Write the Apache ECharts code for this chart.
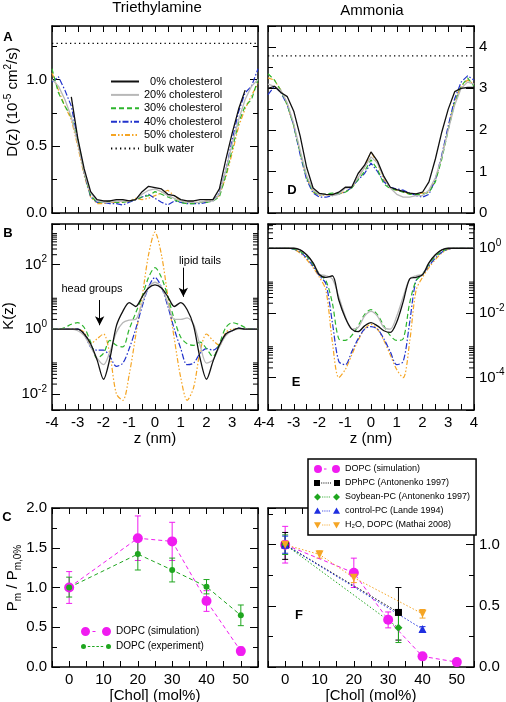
<!DOCTYPE html>
<html><head><meta charset="utf-8">
<script src="https://cdn.jsdelivr.net/npm/echarts@6/dist/echarts.min.js"></script>
<style>html,body{margin:0;padding:0;background:#fff}#c{width:506px;height:702px}</style>
</head><body><div id="c"></div>
<script>
const FONT = '"Liberation Sans", Arial, Helvetica, sans-serif';

// ---------- data ----------
const z = [-4,-3.75,-3.5,-3.25,-3,-2.75,-2.5,-2.25,-2,-1.75,-1.5,-1.25,-1,-0.75,-0.5,-0.25,0,0.25,0.5,0.75,1,1.25,1.5,1.75,2,2.25,2.5,2.75,3,3.25,3.5,3.75,4];
const curveNames = ['0% cholesterol','20% cholesterol','30% cholesterol','40% cholesterol','50% cholesterol'];

// Panel A: D(z), triethylamine (10^-5 cm^2/s)
const D_TEA_0  = [null,null,null,0.87,0.56,0.33,0.16,0.1,0.09,0.09,0.1,0.1,0.09,0.1,0.16,0.2,0.19,0.18,0.14,0.13,0.1,0.09,0.09,0.1,0.1,0.1,0.18,0.4,0.6,0.78,0.92,null,null];
const D_TEA_20 = [1.0,0.95,0.85,0.72,0.52,0.3,0.15,0.09,0.08,0.08,0.09,0.09,0.09,0.1,0.14,0.17,0.18,0.16,0.13,0.11,0.09,0.08,0.08,0.08,0.09,0.09,0.14,0.32,0.52,0.7,0.85,0.95,1.0];
const D_TEA_30 = [1.08,0.9,0.8,0.72,0.55,0.3,0.13,0.08,0.08,0.09,0.08,0.08,0.09,0.1,0.12,0.13,0.16,0.14,0.12,0.1,0.08,0.07,0.07,0.08,0.08,0.09,0.12,0.28,0.48,0.68,0.8,0.85,1.0];
const D_TEA_40 = [0.98,1.02,0.92,0.8,0.55,0.3,0.12,0.08,0.08,0.07,0.07,0.06,0.08,0.1,0.12,0.14,0.11,0.08,0.06,0.09,0.08,0.07,0.07,0.07,0.08,0.09,0.15,0.32,0.55,0.76,0.9,0.95,1.08];
const D_TEA_50 = [1.05,0.92,0.8,0.7,0.5,0.28,0.12,0.07,0.07,0.08,0.08,0.08,0.09,0.11,0.1,0.11,0.13,0.15,0.17,0.13,0.09,0.08,0.08,0.08,0.09,0.1,0.13,0.27,0.45,0.65,0.78,0.88,0.97];
const bulkTEA = 1.27;

// Panel D: D(z), ammonia
const D_NH3_0  = [3.0,3.05,2.9,2.8,2.45,1.85,1.1,0.6,0.47,0.45,0.44,0.5,0.62,0.62,0.95,1.15,1.47,1.25,0.88,0.62,0.56,0.52,0.48,0.46,0.5,0.75,1.3,1.95,2.5,2.92,3.0,3.02,3.02];
const D_NH3_20 = [3.1,3.05,2.95,2.65,2.15,1.5,0.9,0.55,0.44,0.44,0.42,0.45,0.6,0.62,0.85,1.1,1.35,1.2,0.85,0.6,0.45,0.38,0.38,0.42,0.42,0.55,0.85,1.35,2.0,2.6,3.0,3.15,3.1];
const D_NH3_30 = [3.35,3.2,2.95,2.6,2.1,1.45,0.85,0.52,0.43,0.46,0.48,0.46,0.5,0.6,0.8,1.0,1.28,1.05,0.7,0.58,0.55,0.5,0.45,0.45,0.45,0.5,0.75,1.3,2.0,2.65,3.05,3.25,3.05];
const D_NH3_40 = [2.85,3.05,2.9,2.6,2.1,1.4,0.8,0.48,0.38,0.38,0.42,0.46,0.5,0.62,0.8,0.95,1.2,1.0,0.75,0.62,0.58,0.55,0.48,0.42,0.38,0.45,0.8,1.4,2.1,2.75,3.15,3.3,3.2];
const D_NH3_50 = [3.25,3.2,2.95,2.6,2.1,1.45,0.85,0.5,0.42,0.43,0.45,0.45,0.52,0.6,0.85,1.1,1.47,1.2,0.8,0.6,0.55,0.5,0.46,0.46,0.48,0.5,0.8,1.35,2.05,2.7,3.05,3.2,3.1];
const bulkNH3 = 3.78;

// Panel B: log10 K(z), triethylamine
const logK_TEA_0  = [0,0,0,0,0,-0.15,-0.45,-0.95,-1.55,-0.9,0.1,0.55,0.82,0.7,1.0,1.27,1.37,1.27,1.0,0.7,0.82,0.6,0.1,-0.9,-1.55,-1.0,-0.5,-0.15,-0.05,0.03,0,0,0];
const logK_TEA_20 = [0,0,0,0,-0.05,-0.2,-0.55,-0.9,-1.1,-0.7,-0.1,0.2,0.28,0.3,0.8,1.3,1.45,1.3,0.8,0.3,0.3,0.35,0.15,-0.5,-1.05,-0.95,-0.55,-0.2,-0.05,0,0,0,0];
const logK_TEA_30 = [0,0,0.05,0.15,0.2,0.05,-0.4,-0.9,-0.75,-0.35,-0.5,-0.55,0.0,0.5,1.0,1.6,1.9,1.6,1.0,0.3,-0.25,-0.45,-0.5,-0.4,-0.6,-0.85,-0.45,0.05,0.2,0.15,0.05,0,0];
const logK_TEA_40 = [0,0,0,0,0,-0.15,-0.55,-0.65,-0.65,-0.85,-1.15,-1.05,-0.6,0.0,0.7,1.3,1.6,1.3,0.7,0.0,-0.6,-1.1,-1.05,-0.75,-0.6,-0.65,-0.5,-0.15,-0.05,0.03,0,0,0];
const logK_TEA_50 = [0,0,0,0,0,-0.1,-0.45,-0.3,-0.15,-0.8,-2.0,-2.2,-1.4,-0.2,1.0,2.3,3.0,2.3,1.0,-0.3,-1.5,-2.2,-1.8,-0.7,-0.15,-0.35,-0.5,-0.1,0,0,0,0,0];

// Panel E: log10 K(z), ammonia
const logK_NH3_0  = [0,0,0,0,0,-0.05,-0.2,-0.45,-0.82,-0.9,-0.85,-1.6,-2.15,-2.5,-2.58,-2.4,-2.3,-2.4,-2.55,-2.6,-2.28,-1.65,-0.95,-0.9,-0.82,-0.45,-0.2,-0.05,0,0,0,0,0];
const logK_NH3_20 = [0,0,0,0,0,-0.05,-0.2,-0.45,-0.8,-0.85,-0.95,-1.5,-2.1,-2.5,-2.45,-2.1,-1.95,-2.1,-2.45,-2.5,-2.1,-1.5,-0.95,-0.85,-0.8,-0.45,-0.2,-0.05,0,0,0,0,0];
const logK_NH3_30 = [0,0,0,0,-0.02,-0.1,-0.25,-0.5,-0.8,-1.0,-1.7,-2.8,-2.85,-2.7,-2.4,-2.05,-1.9,-2.05,-2.4,-2.7,-2.85,-2.8,-1.7,-1.0,-0.8,-0.5,-0.25,-0.1,-0.02,0,0,0,0];
const logK_NH3_40 = [0,0,0,0,-0.03,-0.12,-0.3,-0.55,-0.85,-1.1,-2.3,-3.5,-3.6,-3.2,-2.8,-2.5,-2.42,-2.5,-2.8,-3.2,-3.6,-3.5,-2.3,-1.0,-0.8,-0.55,-0.3,-0.12,-0.03,0,0,0,0];
const logK_NH3_50 = [0,0,0,0,-0.03,-0.15,-0.35,-0.6,-0.9,-1.3,-2.9,-4.0,-3.75,-3.3,-2.85,-2.5,-2.35,-2.5,-2.85,-3.3,-3.75,-4.0,-2.9,-1.3,-0.9,-0.6,-0.35,-0.15,-0.03,0,0,0,0];

// Panel C: Pm / Pm,0%  vs [Chol]
const cholC = [0,20,30,40,50];
const simC  = [1.0,1.62,1.58,0.83,0.2];
const simC_lo = [0.8,1.34,1.34,0.7,0.15];
const simC_hi = [1.2,1.9,1.82,0.96,0.25];
const expC  = [1.0,1.42,1.22,1.01,0.65];
const expC_lo = [0.88,1.22,1.07,0.92,0.52];
const expC_hi = [1.13,1.6,1.37,1.1,0.78];

// Panel F
const cholF_sim = [0,20,30,40,50];
const simF = [1.0,0.77,0.386,0.087,0.04];
const simF_lo = [0.85,0.65,0.32,0.07,0.03];
const simF_hi = [1.15,0.89,0.45,0.1,0.05];
const cholF_dphpc = [0,33];
const dphpcF = [1.0,0.446];
const dphpcF_lo = [0.88,0.22];
const dphpcF_hi = [1.1,0.65];
const cholF_soy = [0,33];
const soyF = [1.0,0.32];
const soyF_lo = [0.92,0.2];
const soyF_hi = [1.08,0.43];
const cholF_ctrl = [0,40];
const ctrlF = [1.0,0.31];
const ctrlF_lo = [0.93,0.29];
const ctrlF_hi = [1.07,0.33];
const cholF_h2o = [0,10,20,40];
const h2oF = [1.0,0.92,0.73,0.435];
const h2oF_lo = [0.97,0.89,0.69,0.4];
const h2oF_hi = [1.03,0.95,0.77,0.47];

// annotation arrows in panel B (z, log10 K)
const arrowHead = [[-2.15,0.9],[-2.15,0.12]];
const arrowTail = [[1.1,1.9],[1.1,1.0]];

// ---------- helpers ----------
const grids = [
  {left:52, top:26, width:206, height:187},   // A
  {left:268, top:26, width:206, height:187},  // D
  {left:52, top:224, width:206, height:186},  // B
  {left:268, top:224, width:206, height:186}, // E
  {left:52, top:508, width:206, height:159},  // C
  {left:268, top:508, width:206, height:159}  // F
].map(g => Object.assign({containLabel:false, outerBoundsMode:'none'}, g));

const SUP = {fontSize:10, lineHeight:10, verticalAlign:'top', fontFamily:FONT, color:'#000'};
function xAxis(g, pos, min, max, interval, minor, fmt, name, nameGap) {
  return {
    type:'value', gridIndex:g, position:pos, min, max, interval,
    axisLine:{show:true, onZero:false, lineStyle:{color:'#000', width:1.5}},
    axisTick:{show:true, inside:true, length:6, lineStyle:{color:'#000', width:1}},
    minorTick:{show:minor>1, splitNumber:minor||5, length:6, lineStyle:{color:'#000', width:1}},
    splitLine:{show:false}, minorSplitLine:{show:false},
    axisLabel:{show:!!fmt, formatter:fmt, color:'#000', fontSize:15, fontFamily:FONT, margin:5, showMinLabel:true, showMaxLabel:true},
    name:name||'', nameLocation:'middle', nameGap:nameGap||0,
    nameTextStyle:{color:'#000', fontSize:15, fontFamily:FONT}
  };
}
function yAxis(g, pos, min, max, interval, minor, fmt, splitNumber) {
  const o = {
    type:'value', gridIndex:g, position:pos, min, max,
    axisLine:{show:true, onZero:false, lineStyle:{color:'#000', width:1.5}},
    axisTick:{show:true, inside:true, length:8, lineStyle:{color:'#000', width:1}},
    minorTick:{show:minor>1, splitNumber:minor||5, length:5, lineStyle:{color:'#000', width:1}},
    splitLine:{show:false}, minorSplitLine:{show:false},
    axisLabel:{show:!!fmt, formatter:fmt, color:'#000', fontSize:15, fontFamily:FONT, margin:5, lineHeight:20,
               showMinLabel:true, showMaxLabel:true, rich:{s:SUP}}
  };
  if (interval != null) o.interval = interval; else o.splitNumber = splitNumber;
  return o;
}
const isInt = v => Math.abs(v - Math.round(v)) < 1e-6;
const fmtInt = v => (isInt(v) ? String(Math.round(v)) : '');
const fmtHalf = v => (isInt(v*2) ? v.toFixed(1) : '');
const fmtTen = v => (v >= 0 && isInt(v/10) ? String(v) : '');
const fmtPow = v => (isInt(v/2) ? '10{s|' + Math.round(v) + '}' : '');

const xAxes = [], yAxes = [];
// A
xAxes.push(xAxis(0,'bottom',-4,4,1,2,null), xAxis(0,'top',-4,4,1,2,null));
yAxes.push(yAxis(0,'left',0,1.4,0.5,2,fmtHalf), yAxis(0,'right',0,1.4,0.5,2,null));
// D
xAxes.push(xAxis(1,'bottom',-4,4,1,2,null), xAxis(1,'top',-4,4,1,2,null));
yAxes.push(yAxis(1,'left',0,4.5,1,2,null), yAxis(1,'right',0,4.5,1,2,fmtInt));
// B
xAxes.push(xAxis(2,'bottom',-4,4,1,2,fmtInt,'z (nm)',20), xAxis(2,'top',-4,4,1,2,null));
yAxes.push(yAxis(2,'left',-2.5,3.25,null,0,fmtPow,3), yAxis(2,'right',-2.5,3.25,null,0,null,3));
// E
xAxes.push(xAxis(3,'bottom',-4,4,1,2,fmtInt,'z (nm)',20), xAxis(3,'top',-4,4,1,2,null));
yAxes.push(yAxis(3,'left',-5,0.75,null,0,null,3), yAxis(3,'right',-5,0.75,null,0,fmtPow,3));
// C
xAxes.push(xAxis(4,'bottom',-5,55,5,0,fmtTen,'[Chol] (mol%)',19), xAxis(4,'top',-5,55,5,0,null));
yAxes.push(yAxis(4,'left',0,2,0.5,2,fmtHalf), yAxis(4,'right',0,2,0.5,2,null));
// F
xAxes.push(xAxis(5,'bottom',-5,55,5,0,fmtTen,'[Chol] (mol%)',19), xAxis(5,'top',-5,55,5,0,null));
yAxes.push(yAxis(5,'left',0,1.3,0.5,2,null), yAxis(5,'right',0,1.3,0.5,2,fmtHalf));

const STY = [
  {color:'#111111', width:1.3, type:'solid', z:6},
  {color:'#b8b8b8', width:1.3, type:'solid', z:5},
  {color:'#2db52d', width:1.2, type:[5,3], z:4},
  {color:'#2233cc', width:1.2, type:[6,2,1.5,2], z:3},
  {color:'#f5a524', width:1.2, type:[5,2,1.5,2,1.5,2], z:2}
];
const series = [];
function curve(name, g, arr, st, smooth) {
  series.push({type:'line', name, xAxisIndex:2*g, yAxisIndex:2*g,
    data:z.map((v,i)=>[v, arr[i]]), symbol:'none', showSymbol:false, smooth:smooth||false,
    connectNulls:false, lineStyle:{color:st.color, width:st.width, type:st.type},
    itemStyle:{color:st.color}, z:st.z, animation:false, emphasis:{disabled:true}, silent:true});
}
[D_TEA_0,D_TEA_20,D_TEA_30,D_TEA_40,D_TEA_50].forEach((a,i)=>curve(curveNames[i],0,a,STY[i],false));
[D_NH3_0,D_NH3_20,D_NH3_30,D_NH3_40,D_NH3_50].forEach((a,i)=>curve(curveNames[i],1,a,STY[i],false));
[logK_TEA_0,logK_TEA_20,logK_TEA_30,logK_TEA_40,logK_TEA_50].forEach((a,i)=>curve(curveNames[i],2,a,STY[i],0.3));
[logK_NH3_0,logK_NH3_20,logK_NH3_30,logK_NH3_40,logK_NH3_50].forEach((a,i)=>curve(curveNames[i],3,a,STY[i],0.3));

// bulk water
[[0,bulkTEA],[1,bulkNH3]].forEach(([g,v])=>{
  series.push({type:'line', name:'bulk water', xAxisIndex:2*g, yAxisIndex:2*g,
    data:[[z[0],v],[z[z.length-1],v]], symbol:'none', showSymbol:false,
    lineStyle:{color:'#000', width:1.3, type:[1.3,3.2]}, itemStyle:{color:'#000'}, animation:false, silent:true});
});

// arrows in B
series.push({type:'line', xAxisIndex:4, yAxisIndex:4, data:[], silent:true, animation:false,
  markLine:{silent:true, symbol:['none','arrow'], symbolSize:[7,9], animation:false,
    lineStyle:{color:'#000', width:1, type:'solid'}, label:{show:false},
    data:[[{coord:arrowHead[0]},{coord:arrowHead[1]}],[{coord:arrowTail[0]},{coord:arrowTail[1]}]]}});

// log minor ticks in B and E (2..9 x 10^n for the labelled decades)
function logMinor(lo, hi, decades) {
  const out = [];
  decades.forEach(n => { for (let k=2;k<=9;k++){ const v=n+Math.log10(k); if (v>lo && v<hi) out.push([0,v]); } });
  return out;
}
function minorTickSeries(g, data) {
  series.push({type:'custom', xAxisIndex:2*g, yAxisIndex:2*g, data, silent:true, animation:false, clip:false, z:1,
    encode:{x:0, y:1},
    renderItem:(p, api)=>{
      const cs = p.coordSys; const y = api.coord([0, api.value(1)])[1];
      const st = {stroke:'#000', lineWidth:1};
      return {type:'group', children:[
        {type:'line', shape:{x1:cs.x, y1:y, x2:cs.x+5, y2:y}, style:st},
        {type:'line', shape:{x1:cs.x+cs.width-5, y1:y, x2:cs.x+cs.width, y2:y}, style:st}]};
    }});
}
minorTickSeries(2, logMinor(-2.5, 3.25, [-2,0,2]));
minorTickSeries(3, logMinor(-5, 0.75, [-4,-2,0]));

// panel C / F points
function pts(name, g, xs, ys, color, symbol, size, lineType, rot) {
  series.push({type:'line', name, xAxisIndex:2*g, yAxisIndex:2*g, data:xs.map((x,i)=>[x,ys[i]]),
    symbol, symbolSize:size, symbolRotate:rot||0, showSymbol:true,
    lineStyle:{color, width:1, type:lineType}, itemStyle:{color}, z:5, animation:false, silent:true});
}
function errBars(g, xs, lo, hi, color) {
  series.push({type:'custom', xAxisIndex:2*g, yAxisIndex:2*g, data:xs.map((x,i)=>[x,lo[i],hi[i]]),
    silent:true, animation:false, z:4, encode:{x:0, y:[1,2]},
    renderItem:(p, api)=>{
      const a = api.coord([api.value(0), api.value(1)]), b = api.coord([api.value(0), api.value(2)]);
      const w = 3, st = {stroke:color, lineWidth:1};
      return {type:'group', children:[
        {type:'line', shape:{x1:a[0],y1:a[1],x2:b[0],y2:b[1]}, style:st},
        {type:'line', shape:{x1:a[0]-w,y1:a[1],x2:a[0]+w,y2:a[1]}, style:st},
        {type:'line', shape:{x1:b[0]-w,y1:b[1],x2:b[0]+w,y2:b[1]}, style:st}]};
    }});
}
const MAG = '#f01cf0', GRN = '#1fa61f', BLU = '#1f2fe0', ORG = '#f5a524';
errBars(4, cholC, simC_lo, simC_hi, MAG);
errBars(4, cholC, expC_lo, expC_hi, GRN);
pts('DOPC (simulation)', 4, cholC, simC, MAG, 'circle', 10, [4,3]);
pts('DOPC (experiment)', 4, cholC, expC, GRN, 'circle', 6, [4,3]);

errBars(5, cholF_sim, simF_lo, simF_hi, MAG);
errBars(5, cholF_dphpc, dphpcF_lo, dphpcF_hi, '#000');
errBars(5, cholF_soy, soyF_lo, soyF_hi, GRN);
errBars(5, cholF_ctrl, ctrlF_lo, ctrlF_hi, BLU);
errBars(5, cholF_h2o, h2oF_lo, h2oF_hi, ORG);
pts('DOPC (simulation)', 5, cholF_sim, simF, MAG, 'circle', 10, [4,3]);
pts('DPhPC (Antonenko 1997)', 5, cholF_dphpc, dphpcF, '#000', 'rect', 7, [1.5,2]);
pts('Soybean-PC (Antonenko 1997)', 5, cholF_soy, soyF, GRN, 'diamond', 8, [1.5,2]);
pts('control-PC (Lande 1994)', 5, cholF_ctrl, ctrlF, BLU, 'triangle', 8, [1.5,2]);
pts('H\u2082O, DOPC (Mathai 2008)', 5, cholF_h2o, h2oF, ORG, 'triangle', 8, [1.5,2], 180);

// ---------- legend icons: marker at both ends joined by a dashed / dotted line ----------
function markerPath(kind, cx, cy, r) {
  if (kind === 'circle') return `M${cx-r},${cy}a${r},${r} 0 1,0 ${2*r},0a${r},${r} 0 1,0 ${-2*r},0Z`;
  if (kind === 'rect') return `M${cx-r},${cy-r}h${2*r}v${2*r}h${-2*r}Z`;
  if (kind === 'diamond') return `M${cx},${cy-r}L${cx+r},${cy}L${cx},${cy+r}L${cx-r},${cy}Z`;
  if (kind === 'up') return `M${cx},${cy-r}L${cx+r},${cy+r*0.8}L${cx-r},${cy+r*0.8}Z`;
  return `M${cx-r},${cy-r*0.8}L${cx+r},${cy-r*0.8}L${cx},${cy+r}Z`;
}
function legendIcon(W, H, kind, r, dashLen, gapLen) {
  const cy = H/2, x0 = r, x1 = W - r;
  let p = `M0,0L0,0ZM${W},${H}L${W},${H}Z`;
  p += markerPath(kind, x0, cy, r) + markerPath(kind, x1, cy, r);
  for (let x = x0 + r + gapLen; x + dashLen <= x1 - r - gapLen + 0.01; x += dashLen + gapLen)
    p += `M${x},${cy-0.6}h${dashLen}v1.2h${-dashLen}Z`;
  return 'path://' + p;
}

const legText = {color:'#000', fontFamily:FONT};
const option = {
  animation:false,
  backgroundColor:'#fff',
  grid:grids, xAxis:xAxes, yAxis:yAxes, series,
  legend:[
    {data:[...curveNames,'bulk water'], left:105, top:71, orient:'vertical', itemGap:2.4, itemWidth:28, itemHeight:11,
     selectedMode:false, itemStyle:{opacity:0}, textStyle:Object.assign({fontSize:11}, legText),
     formatter:n => n.startsWith('0%') ? '\u2007' + n : n},
    {data:[{name:'DOPC (simulation)', icon:legendIcon(30,11,'circle',4.5,3,2.5)},
           {name:'DOPC (experiment)', icon:legendIcon(30,11,'circle',2.5,2.5,1.8)}],
     left:76, top:621, orient:'vertical', itemGap:4, itemWidth:30, itemHeight:11,
     selectedMode:false, textStyle:Object.assign({fontSize:10}, legText)},
    {data:[{name:'DOPC (simulation)', icon:legendIcon(26,10,'circle',4,2.5,2)},
           {name:'DPhPC (Antonenko 1997)', icon:legendIcon(26,10,'rect',3,1,1.2)},
           {name:'Soybean-PC (Antonenko 1997)', icon:legendIcon(26,10,'diamond',3.5,1,1.2)},
           {name:'control-PC (Lande 1994)', icon:legendIcon(26,10,'up',3.5,1,1.2)},
           {name:'H\u2082O, DOPC (Mathai 2008)', icon:legendIcon(26,10,'down',3.5,1,1.2)}],
     left:308, top:459, orient:'vertical', itemGap:4, itemWidth:26, itemHeight:10, selectedMode:false,
     backgroundColor:'#fff', borderColor:'#000', borderWidth:1.5, padding:[5,6,5,6],
     textStyle:Object.assign({fontSize:9}, legText)}
  ],
  graphic:[
    {type:'text', x:157, y:8, style:{text:'Triethylamine', fontSize:15, fontFamily:FONT, fill:'#000', align:'center', verticalAlign:'middle'}},
    {type:'text', x:372, y:11, style:{text:'Ammonia', fontSize:15, fontFamily:FONT, fill:'#000', align:'center', verticalAlign:'middle'}},
    {type:'text', x:8, y:37, style:{text:'A', fontSize:13, fontWeight:'bold', fontFamily:FONT, fill:'#000', align:'center', verticalAlign:'middle'}},
    {type:'text', x:8, y:233, style:{text:'B', fontSize:13, fontWeight:'bold', fontFamily:FONT, fill:'#000', align:'center', verticalAlign:'middle'}},
    {type:'text', x:7, y:517, style:{text:'C', fontSize:13, fontWeight:'bold', fontFamily:FONT, fill:'#000', align:'center', verticalAlign:'middle'}},
    {type:'text', x:292, y:190, style:{text:'D', fontSize:13, fontWeight:'bold', fontFamily:FONT, fill:'#000', align:'center', verticalAlign:'middle'}},
    {type:'text', x:296, y:382, style:{text:'E', fontSize:13, fontWeight:'bold', fontFamily:FONT, fill:'#000', align:'center', verticalAlign:'middle'}},
    {type:'text', x:299, y:615, style:{text:'F', fontSize:13, fontWeight:'bold', fontFamily:FONT, fill:'#000', align:'center', verticalAlign:'middle'}},
    {type:'text', x:13, y:102, rotation:Math.PI/2, style:{text:'D(z) (10{s|-5} cm{s|2}/s)', fontSize:15, lineHeight:20, fontFamily:FONT, fill:'#000', align:'center', verticalAlign:'middle', rich:{s:SUP}}},
    {type:'text', x:9, y:316, rotation:Math.PI/2, style:{text:'K(z)', fontSize:15, fontFamily:FONT, fill:'#000', align:'center', verticalAlign:'middle'}},
    {type:'text', x:13, y:578, rotation:Math.PI/2, style:{text:'P{b|m} / P{b|m,0%}', fontSize:15, lineHeight:20, fontFamily:FONT, fill:'#000', align:'center', verticalAlign:'middle',
      rich:{b:{fontSize:10, lineHeight:10, verticalAlign:'bottom', fontFamily:FONT, color:'#000'}}}},
    {type:'text', x:92, y:289, style:{text:'head groups', fontSize:11, fontFamily:FONT, fill:'#000', align:'center', verticalAlign:'middle'}},
    {type:'text', x:200, y:261, style:{text:'lipid tails', fontSize:11, fontFamily:FONT, fill:'#000', align:'center', verticalAlign:'middle'}}
  ]
};
const chart = echarts.init(document.getElementById('c'), null, {renderer:'canvas', width:506, height:702});
chart.setOption(option);
</script>
</body></html>
